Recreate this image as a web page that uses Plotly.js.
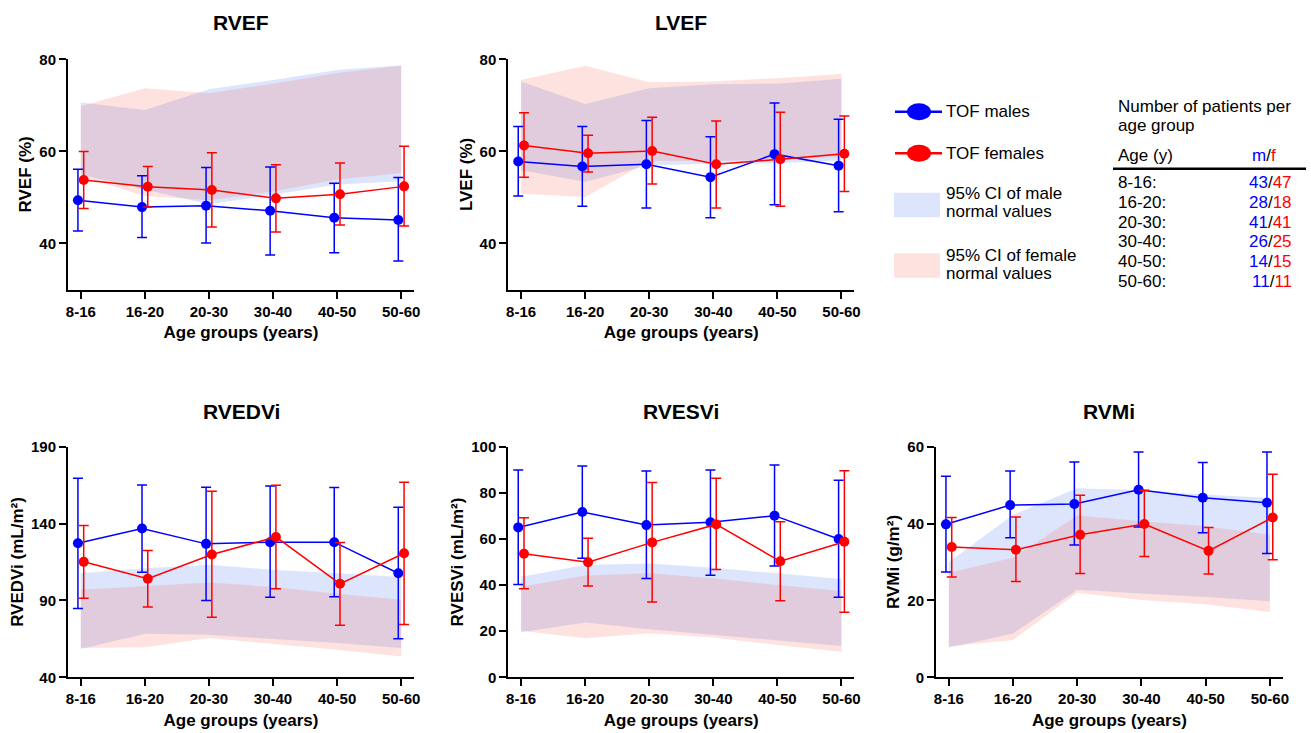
<!DOCTYPE html>
<html>
<head>
<meta charset="utf-8">
<script src="https://cdn.plot.ly/plotly-3.0.1.min.js"></script>
<style>html,body{margin:0;padding:0;background:#fff;}#chart{width:1311px;height:733px;}</style>
</head>
<body>
<div id="chart"></div>
<script>
// ---------------- DATA ----------------
const ageGroups = ['8-16', '16-20', '20-30', '30-40', '40-50', '50-60'];
const maleN = [43, 28, 41, 26, 14, 11];
const femaleN = [47, 18, 41, 25, 15, 11];

// RVEF (%)
const rvefMaleMean = [49.4, 47.9, 48.2, 47.1, 45.6, 45.1];
const rvefMaleHi   = [56.1, 54.7, 56.5, 56.6, 53.1, 54.3];
const rvefMaleLo   = [42.7, 41.3, 40.1, 37.5, 38.0, 36.2];
const rvefFemMean  = [53.8, 52.3, 51.6, 49.8, 50.7, 52.4];
const rvefFemHi    = [60.0, 56.7, 59.7, 57.1, 57.5, 61.1];
const rvefFemLo    = [47.6, 47.9, 43.6, 42.5, 44.0, 43.8];
const rvefMaleCIUp = [70.6, 69.0, 73.5, 75.5, 77.7, 78.7];
const rvefMaleCILo = [55.0, 51.7, 48.5, 50.6, 52.8, 53.5];
const rvefFemCIUp  = [69.8, 73.7, 72.6, 74.7, 77.0, 78.6];
const rvefFemCILo  = [54.6, 50.3, 49.4, 51.3, 53.9, 55.3];

// LVEF (%)
const lvefMaleMean = [57.8, 56.7, 57.2, 54.4, 59.4, 56.9];
const lvefMaleHi   = [65.4, 65.4, 66.7, 63.2, 70.5, 67.0];
const lvefMaleLo   = [50.3, 48.1, 47.7, 45.6, 48.4, 46.9];
const lvefFemMean  = [61.3, 59.6, 60.1, 57.2, 58.3, 59.5];
const lvefFemHi    = [68.4, 63.5, 67.4, 66.6, 68.5, 67.7];
const lvefFemLo    = [54.4, 55.5, 52.9, 47.7, 48.1, 51.3];
const lvefMaleCIUp = [75.2, 70.3, 73.7, 74.6, 74.7, 75.8];
const lvefMaleCILo = [55.9, 53.4, 57.0, 57.3, 57.4, 58.1];
const lvefFemCIUp  = [75.5, 78.6, 75.0, 75.2, 75.9, 76.8];
const lvefFemCILo  = [50.8, 50.1, 57.9, 57.9, 58.2, 58.8];

// RVEDVi (mL/m2)
const rvedviMaleMean = [127.2, 136.8, 126.8, 127.9, 127.9, 107.7];
const rvedviMaleHi   = [169.4, 165.1, 163.6, 164.5, 163.4, 150.6];
const rvedviMaleLo   = [84.8, 108.4, 90.0, 92.0, 92.4, 65.1];
const rvedviFemMean  = [115.1, 104.1, 119.9, 131.3, 100.8, 120.7];
const rvedviFemHi    = [138.7, 122.5, 161.0, 164.9, 127.7, 166.8];
const rvedviFemLo    = [91.5, 85.7, 79.0, 97.6, 73.8, 74.4];
const rvedviMaleCIUp = [107.7, 111.0, 113.2, 109.9, 107.7, 105.2];
const rvedviMaleCILo = [58.4, 68.4, 67.7, 64.9, 62.3, 59.0];
const rvedviFemCIUp  = [96.9, 99.5, 101.7, 98.7, 94.3, 90.4];
const rvedviFemCILo  = [59.0, 59.5, 65.5, 61.9, 58.0, 53.6];

// RVESVi (mL/m2)
const rvesviMaleMean = [65.0, 71.7, 66.0, 67.2, 70.1, 60.0];
const rvesviMaleHi   = [89.9, 91.6, 89.5, 89.9, 92.1, 85.5];
const rvesviMaleLo   = [40.2, 51.6, 42.8, 44.2, 48.3, 34.7];
const rvesviFemMean  = [53.6, 49.9, 58.5, 66.3, 50.3, 58.8];
const rvesviFemHi    = [69.2, 60.3, 84.5, 86.3, 67.5, 89.6];
const rvesviFemLo    = [38.4, 39.6, 32.7, 46.7, 33.2, 28.2];
const rvesviMaleCIUp = [43.6, 48.7, 49.4, 47.5, 45.1, 42.6];
const rvesviMaleCILo = [19.5, 23.8, 20.8, 18.4, 15.9, 13.6];
const rvesviFemCIUp  = [39.3, 44.1, 45.1, 42.9, 40.0, 37.4];
const rvesviFemCILo  = [20.2, 16.9, 19.1, 17.3, 14.0, 11.1];

// RVMi (g/m2)
const rvmiMaleMean = [39.8, 44.8, 45.1, 48.8, 46.7, 45.4];
const rvmiMaleHi   = [52.3, 53.7, 56.0, 58.6, 55.9, 58.6];
const rvmiMaleLo   = [27.4, 36.3, 34.4, 39.1, 37.6, 32.2];
const rvmiFemMean  = [33.9, 33.2, 37.1, 39.9, 32.9, 41.6];
const rvmiFemHi    = [41.6, 41.7, 47.4, 48.7, 39.0, 52.8];
const rvmiFemLo    = [26.1, 24.9, 27.0, 31.4, 26.9, 30.6];
const rvmiMaleCIUp = [30.0, 42.3, 49.2, 48.7, 47.5, 46.7];
const rvmiMaleCILo = [7.7, 11.4, 22.8, 21.8, 20.9, 19.8];
const rvmiFemCIUp  = [27.2, 31.1, 42.1, 40.6, 39.3, 37.1];
const rvmiFemCILo  = [8.1, 9.7, 22.0, 20.1, 19.0, 17.0];

// ---------------- STYLE ----------------
const W = 1311, H = 733;
const px = x => x / W;
const py = y => 1 - y / H;
const FONT = 'Liberation Sans, Arial, Helvetica, sans-serif';
const BLUE = '#0000ff', RED = '#ff0000';
const BLUE_FILL = 'rgba(50,100,240,0.17)';
const PINK_FILL = 'rgba(245,95,80,0.18)';
const idx = ageGroups.map((_, i) => i);

const panels = [
  {name: 'RVEF', ytitle: 'RVEF (%)', range: [30, 80], tickvals: [40, 60, 80],
   mm: rvefMaleMean, mh: rvefMaleHi, ml: rvefMaleLo, fm: rvefFemMean, fh: rvefFemHi, fl: rvefFemLo,
   mcu: rvefMaleCIUp, mcl: rvefMaleCILo, fcu: rvefFemCIUp, fcl: rvefFemCILo,
   xd: [px(68), px(414)], yd: [py(289.5), py(59.3)], ty: 23},
  {name: 'LVEF', ytitle: 'LVEF (%)', range: [30, 80], tickvals: [40, 60, 80],
   mm: lvefMaleMean, mh: lvefMaleHi, ml: lvefMaleLo, fm: lvefFemMean, fh: lvefFemHi, fl: lvefFemLo,
   mcu: lvefMaleCIUp, mcl: lvefMaleCILo, fcu: lvefFemCIUp, fcl: lvefFemCILo,
   xd: [px(508.3), px(854.3)], yd: [py(289.5), py(59.3)], ty: 23},
  {name: 'RVEDVi', ytitle: 'RVEDVi (mL/m²)', range: [40, 190], tickvals: [40, 90, 140, 190],
   mm: rvedviMaleMean, mh: rvedviMaleHi, ml: rvedviMaleLo, fm: rvedviFemMean, fh: rvedviFemHi, fl: rvedviFemLo,
   mcu: rvedviMaleCIUp, mcl: rvedviMaleCILo, fcu: rvedviFemCIUp, fcl: rvedviFemCILo,
   xd: [px(68), px(414)], yd: [py(677.3), py(446.7)], ty: 411},
  {name: 'RVESVi', ytitle: 'RVESVi (mL/m²)', range: [0, 100], tickvals: [0, 20, 40, 60, 80, 100],
   mm: rvesviMaleMean, mh: rvesviMaleHi, ml: rvesviMaleLo, fm: rvesviFemMean, fh: rvesviFemHi, fl: rvesviFemLo,
   mcu: rvesviMaleCIUp, mcl: rvesviMaleCILo, fcu: rvesviFemCIUp, fcl: rvesviFemCILo,
   xd: [px(508.3), px(854.3)], yd: [py(677.3), py(446.7)], ty: 411},
  {name: 'RVMi', ytitle: 'RVMi (g/m²)', range: [0, 60], tickvals: [0, 20, 40, 60],
   mm: rvmiMaleMean, mh: rvmiMaleHi, ml: rvmiMaleLo, fm: rvmiFemMean, fh: rvmiFemHi, fl: rvmiFemLo,
   mcu: rvmiMaleCIUp, mcl: rvmiMaleCILo, fcu: rvmiFemCIUp, fcl: rvmiFemCILo,
   xd: [px(936), px(1282.7)], yd: [py(677.3), py(446.7)], ty: 411}
];

const traces = [];
const layout = {
  width: W, height: H,
  margin: {l: 0, r: 0, t: 0, b: 0},
  paper_bgcolor: '#fff', plot_bgcolor: 'rgba(0,0,0,0)',
  showlegend: false,
  font: {family: FONT, color: '#000'},
  annotations: [], shapes: []
};

function band(up, lo, color, xa, ya) {
  return {
    x: idx.concat(idx.slice().reverse()),
    y: up.concat(lo.slice().reverse()),
    xaxis: xa, yaxis: ya, type: 'scatter', mode: 'lines',
    fill: 'toself', fillcolor: color, line: {width: 0, color: color},
    hoverinfo: 'skip'
  };
}
function series(mean, hi, lo, color, off, xa, ya, name) {
  return {
    x: idx.map(i => i + off), y: mean, xaxis: xa, yaxis: ya, name: name,
    type: 'scatter', mode: 'lines+markers',
    line: {color: color, width: 1.5},
    marker: {color: color, size: 10},
    error_y: {type: 'data', symmetric: false,
      array: hi.map((h, i) => h - mean[i]),
      arrayminus: lo.map((l, i) => mean[i] - l),
      color: color, thickness: 1.5, width: 5}
  };
}

panels.forEach((p, k) => {
  const n = k === 0 ? '' : String(k + 1);
  const xa = 'x' + n, ya = 'y' + n;
  traces.push(band(p.mcu, p.mcl, BLUE_FILL, xa, ya));
  traces.push(band(p.fcu, p.fcl, PINK_FILL, xa, ya));
  traces.push(series(p.mm, p.mh, p.ml, BLUE, -0.045, xa, ya, 'TOF males'));
  traces.push(series(p.fm, p.fh, p.fl, RED, 0.045, xa, ya, 'TOF females'));
  layout['xaxis' + n] = {
    domain: p.xd, anchor: ya, range: [-0.2, 5.2],
    tickmode: 'array', tickvals: idx, ticktext: ageGroups,
    showline: true, linewidth: 2, linecolor: '#000', mirror: false,
    ticks: 'outside', ticklen: 7, tickwidth: 2, tickcolor: '#000',
    tickfont: {family: FONT, size: 15, weight: 'bold', color: '#000'},
    showgrid: false, zeroline: false, fixedrange: true,
    title: {text: 'Age groups (years)', standoff: 8,
      font: {family: FONT, size: 17, weight: 'bold', color: '#000'}}
  };
  layout['yaxis' + n] = {
    domain: p.yd, anchor: xa, range: p.range,
    tickmode: 'array', tickvals: p.tickvals,
    showline: true, linewidth: 2, linecolor: '#000',
    ticks: 'outside', ticklen: 7, tickwidth: 2, tickcolor: '#000',
    tickfont: {family: FONT, size: 15, weight: 'bold', color: '#000'},
    showgrid: false, zeroline: false, fixedrange: true,
    title: {text: p.ytitle, standoff: 3,
      font: {family: FONT, size: 17, weight: 'bold', color: '#000'}}
  };
  layout.annotations.push({
    xref: 'paper', yref: 'paper', x: (p.xd[0] + p.xd[1]) / 2, y: py(p.ty),
    xanchor: 'center', yanchor: 'middle', showarrow: false,
    text: p.name, font: {family: FONT, size: 21, weight: 'bold', color: '#000'}
  });
});

// ---------------- LEGEND (drawn) ----------------
function txt(x, y, t, anchor) {
  layout.annotations.push({xref: 'paper', yref: 'paper', x: px(x), y: py(y),
    xanchor: anchor || 'left', yanchor: 'middle', showarrow: false, text: t,
    font: {family: FONT, size: 17, color: '#000'}});
}
[[111.7, BLUE, 'TOF males'], [153.3, RED, 'TOF females']].forEach(([y, c, t]) => {
  layout.shapes.push({type: 'line', xref: 'paper', yref: 'paper',
    x0: px(895), x1: px(942), y0: py(y), y1: py(y), line: {color: c, width: 2.5}});
  layout.shapes.push({type: 'circle', xref: 'paper', yref: 'paper',
    x0: px(907), x1: px(931), y0: py(y - 8.5), y1: py(y + 8.5),
    fillcolor: c, line: {width: 0}});
  txt(943.5, y, t);
});
layout.shapes.push({type: 'rect', xref: 'paper', yref: 'paper',
  x0: px(894), x1: px(940), y0: py(192.7), y1: py(217.3), fillcolor: BLUE_FILL, line: {width: 0}});
layout.shapes.push({type: 'rect', xref: 'paper', yref: 'paper',
  x0: px(894), x1: px(940), y0: py(253.3), y1: py(277.7), fillcolor: PINK_FILL, line: {width: 0}});
txt(943.5, 193.3, '95% CI of male');
txt(943.5, 211.7, 'normal values');
txt(943.5, 255, '95% CI of female');
txt(943.5, 273.3, 'normal values');

// ---------------- TABLE ----------------
const mf = (m, f) => '<span style="color:#0000ff">' + m + '</span>/<span style="color:#ff0000">' + f + '</span>';
txt(1116, 106, 'Number of patients per');
txt(1116, 125, 'age group');
txt(1116, 156, 'Age (y)');
txt(1250, 156, mf('m', 'f'));
layout.shapes.push({type: 'line', xref: 'paper', yref: 'paper',
  x0: px(1113), x1: px(1306), y0: py(168.7), y1: py(168.7), line: {color: '#000', width: 2.5}});
ageGroups.forEach((g, i) => {
  const y = 182.7 + i * 19.66;
  txt(1116, y, g + ':');
  txt(1294, y, mf(maleN[i], femaleN[i]), 'right');
});

Plotly.newPlot('chart', traces, layout, {displayModeBar: false, staticPlot: true});
</script>
</body>
</html>
